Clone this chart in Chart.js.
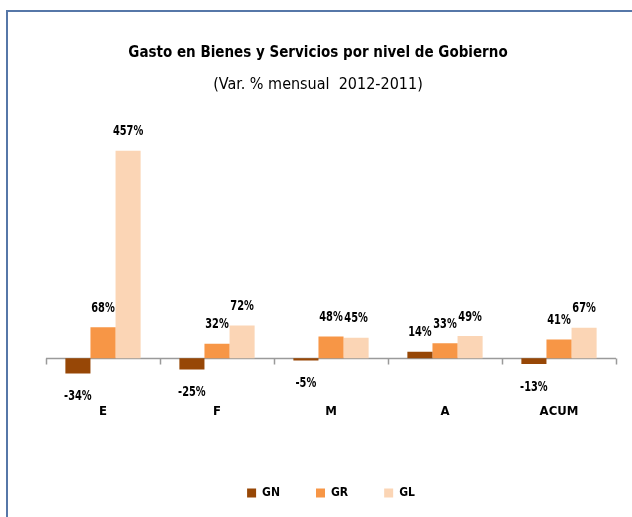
<!DOCTYPE html>
<html>
<head>
<meta charset="utf-8">
<script src="https://cdn.jsdelivr.net/npm/chart.js@4.4.0/dist/chart.umd.min.js"></script>
<style>
    html, body { margin: 0; padding: 0; background: #fff; }
    #wrap { position: relative; width: 632px; height: 517px; overflow: hidden; }
    #frame {
        position: absolute; left: 6px; top: 10px; width: 640px; height: 520px;
        border-left: 2px solid #5677a8; border-top: 2px solid #5677a8;
        box-sizing: border-box;
    }
    canvas { position: absolute; left: 0; top: 0; }
</style>
</head>
<body>
<div id="wrap">
    <div id="frame"></div>
    <canvas id="chart" width="632" height="517"></canvas>
</div>
<script>
// datos del gráfico
const categories = ["E", "F", "M", "A", "ACUM"];
const gnValues = [-34, -25, -5, 14, -13];
const grValues = [68, 32, 48, 33, 41];
const glValues = [457, 72, 45, 49, 67];
const seriesNames = ["GN", "GR", "GL"];
const seriesColors = ["#974706", "#f79646", "#fbd5b5"];

const FONT = "'DejaVu Sans Condensed', 'Liberation Sans', sans-serif";

// línea del cero y marcas entre categorías
const zeroAxisPlugin = {
    id: 'zeroAxis',
    beforeDatasetsDraw(chart) {
        const ctx = chart.ctx;
        const x = chart.scales.x;
        const y0 = Math.round(chart.scales.y.getPixelForValue(0)) + 0.5;
        const step = x.getPixelForValue(1) - x.getPixelForValue(0);
        ctx.save();
        ctx.strokeStyle = '#9a9a9a';
        ctx.lineWidth = 1.5;
        ctx.beginPath();
        ctx.moveTo(chart.chartArea.left, y0);
        ctx.lineTo(chart.chartArea.right, y0);
        for (let i = 0; i <= categories.length; i++) {
            const px = Math.round(x.getPixelForValue(0) - step / 2 + i * step) + 0.5;
            ctx.moveTo(px, y0);
            ctx.lineTo(px, y0 + 6);
        }
        ctx.stroke();
        ctx.restore();
    }
};

// etiquetas de valor sobre / bajo cada barra (texto algo estrecho)
const valueLabelPlugin = {
    id: 'valueLabels',
    afterDatasetsDraw(chart) {
        const ctx = chart.ctx;
        chart.data.datasets.forEach((ds, di) => {
            const meta = chart.getDatasetMeta(di);
            meta.data.forEach((bar, i) => {
                const v = ds.data[i];
                const ly = v >= 0 ? bar.y - 19 : bar.y + 23;
                ctx.save();
                ctx.font = "bold 14px " + FONT;
                ctx.fillStyle = '#000';
                ctx.textAlign = 'center';
                ctx.textBaseline = 'middle';
                ctx.translate(bar.x, ly);
                ctx.scale(0.78, 1);
                ctx.fillText(v + '%', 0, 0);
                ctx.restore();
            });
        });
    }
};

const datasets = [gnValues, grValues, glValues].map((vals, i) => ({
    label: seriesNames[i],
    data: vals,
    backgroundColor: seriesColors[i],
    borderWidth: 0,
    categoryPercentage: 0.66,
    barPercentage: 1.0
}));

new Chart(document.getElementById('chart'), {
    type: 'bar',
    data: { labels: categories, datasets: datasets },
    options: {
        responsive: false,
        animation: false,
        layout: { padding: { left: 20, right: 16, top: 0, bottom: 8 } },
        plugins: {
            title: {
                display: true,
                text: 'Gasto en Bienes y Servicios por nivel de Gobierno',
                color: '#000',
                font: { family: FONT, size: 15, weight: 'bold' },
                padding: { top: 44, bottom: 13 }
            },
            subtitle: {
                display: true,
                text: '(Var. % mensual  2012-2011)',
                color: '#000',
                font: { family: FONT, size: 16, weight: 'normal' },
                padding: { top: 0, bottom: 37 }
            },
            legend: {
                position: 'bottom',
                fullSize: false,
                labels: {
                    boxWidth: 9,
                    boxHeight: 9,
                    padding: 36,
                    color: '#000',
                    font: { family: FONT, size: 12, weight: 'bold' }
                }
            },
            tooltip: { enabled: false }
        },
        scales: {
            x: {
                grid: { display: false },
                border: { display: false },
                ticks: {
                    color: '#000',
                    padding: 10,
                    font: { family: FONT, size: 13, weight: 'bold' }
                },
                afterFit(scale) {
                    scale.height += 22;
                }
            },
            y: {
                min: -60,
                max: 500,
                grid: { display: false, drawTicks: false },
                border: { display: false },
                ticks: { display: false },
                afterFit(scale) {
                    scale.width = 26;
                }
            }
        }
    },
    plugins: [zeroAxisPlugin, valueLabelPlugin]
});
</script>
</body>
</html>
